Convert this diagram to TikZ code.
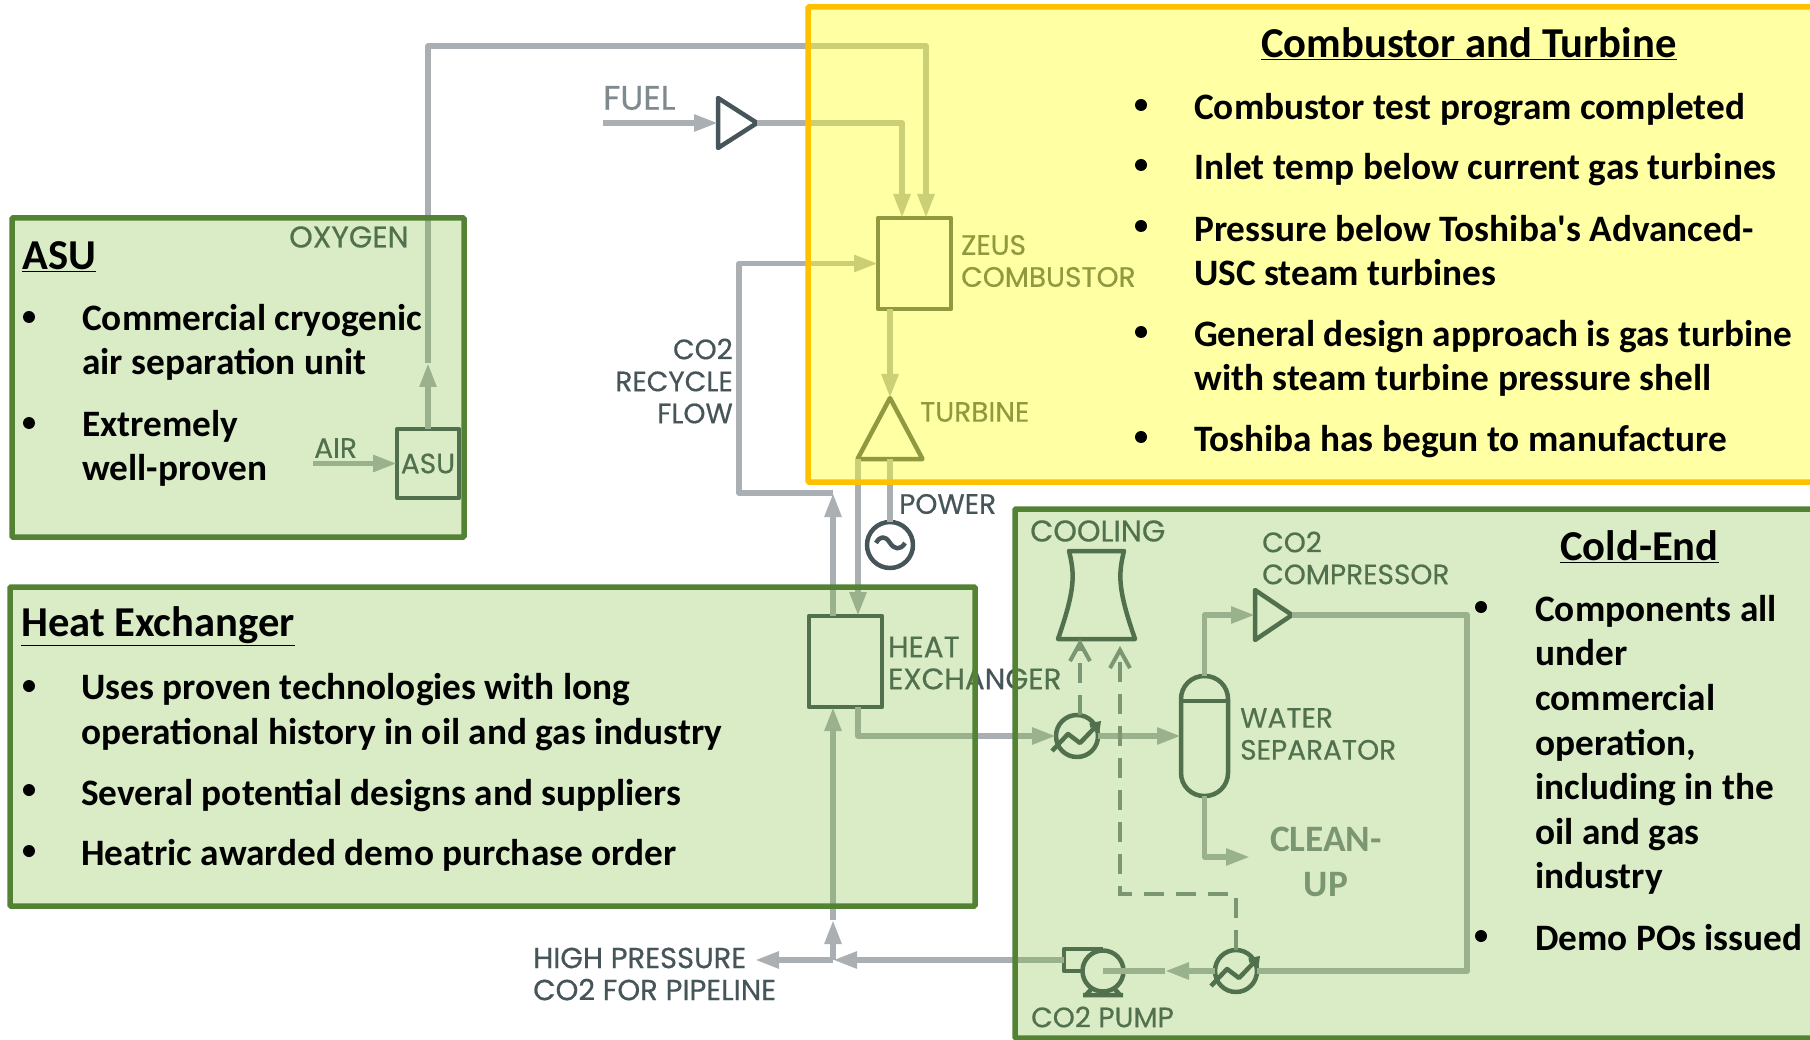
\documentclass[tikz,border=0pt]{standalone}
\usepackage{fontspec}
\setmainfont{Carlito}
\newfontfamily\labelfamily[FakeBold=0.5]{Poppins}
\usetikzlibrary{arrows.meta,positioning,shapes.geometric}
\definecolor{linegray}{HTML}{A9AFB2}
\definecolor{symdark}{HTML}{46555A}
\definecolor{symmid}{HTML}{7F8A8E}
\definecolor{yellowfill}{HTML}{FFFF1B}
\definecolor{yellowedge}{HTML}{FFC000}
\definecolor{greenfill}{HTML}{71BA2A}
\definecolor{greenedge}{HTML}{548235}
\newcommand{\labelfont}[1]{\fontsize{#1}{32}\selectfont\labelfamily}
\newcommand{\bodyfont}{\fontsize{37.3}{44.6}\selectfont\bfseries}
\newcommand{\headfont}{\fontsize{42.6}{50}\selectfont\bfseries}

\tikzset{
  cooler/.pic={
    \node[sym, circle, minimum size=42pt] (-c) at (0,0) {};
    \draw[sym, -{Straight Barb[length=7pt,width=10pt]}] (-25,15) -- (-9,-2) -- (3,7) -- (24,-15);
  }
}

\begin{document}
\begin{tikzpicture}[x=1pt, y=-1pt,
  pipe/.style={draw=linegray, line width=5.5pt, line join=round},
  flow/.style={pipe, -{Triangle[length=24pt,width=16pt]}},
  vent/.style={draw=symmid, line width=4pt, dash pattern=on 20pt off 12pt, -{Straight Barb[length=18pt,width=20pt]}},
  sym/.style={draw=symdark, line width=4.5pt, line join=round, inner sep=0pt, outer sep=0pt},
  unit/.style={sym, minimum width=73pt, minimum height=91pt},
  valve/.style={sym, isosceles triangle, isosceles triangle stretches},
  lab/.style={font=\labelfont{28}, text=symdark, inner sep=0pt, anchor=west, align=left},
  panel/.style={line width=5.5pt, rounded corners=1pt, outer sep=0pt, anchor=north west, draw opacity=1},
  greenpanel/.style={panel, draw=greenedge, fill=greenfill, fill opacity=0.27},
  dot/.style={circle, fill=black, inner sep=0pt, minimum size=12pt},
  body/.style={font=\bodyfont, text=black, inner sep=0pt, anchor=west, align=left},
  head/.style={font=\headfont, text=black, inner sep=0pt, anchor=west}
]
\useasboundingbox (0,0) rectangle (1810,1040);
\clip (0,0) rectangle (1810,1040);

% equipment
\node[unit] (zeus) at (914.5,263.5) {};
\node[unit] (hx) at (845.5,661.5) {};
\node[sym, minimum width=62pt, minimum height=69pt, font=\labelfont{28}, text=symdark] (asuunit) at (428,463.5) {ASU};
\node[valve, minimum width=50pt, minimum height=39pt, anchor=apex] (fuelvalve) at (757,123) {};
\node[valve, shape border rotate=90, minimum width=65pt, minimum height=61pt, anchor=apex] (turbine) at (890,398) {};
\node[valve, minimum width=50pt, minimum height=37pt, anchor=apex] (comp) at (1292,615) {};
\node[sym, circle, minimum size=46pt] (gen) at (890,545) {};
\draw[sym] (876,543) .. controls (880,536) and (885,535) .. (890,543) .. controls (894,549) and (900,551) .. (905,543);
\node[sym, rounded corners=23pt, minimum width=47pt, minimum height=120pt] (sep) at (1204.5,736) {};
\coordinate (sepline) at (1204,701);
\draw[sym] (sep.west |- sepline) -- (sep.east |- sepline);
\pic (cool1) at (1077,736) {cooler};
\pic (cool2) at (1236,971) {cooler};
\draw[sym] (1069,551) -- (1124,551) .. controls (1118,575) and (1118,590) .. (1135,639) -- (1058,639) .. controls (1075,590) and (1075,575) .. (1069,551) -- cycle;
% pump
\node[sym, circle, minimum size=41pt] (pump) at (1103,971) {};
\node[inner sep=0pt, outer sep=0pt, minimum width=39pt, minimum height=22pt] (pumpbox) at (1083.5,960) {};
\draw[sym] (pumpbox.north east) -- (pumpbox.north west) -- (pumpbox.south west) -- (pumpbox.south);
\draw[sym] (1083,995) -- (1123,995) (1086,995) -- (1093,987) (1120,995) -- (1113,987);

% free ends and bends
\coordinate (oxyhead) at (428,363);
\coordinate (oxyturn) at (926,46);
\coordinate (airin) at (313,463.5);
\coordinate (fuelin) at (603,123);
\coordinate (fuelturn) at (902,123);
\coordinate (recyclehead) at (833,493);
\coordinate (recycleturn) at (739,263.5);
\coordinate (tee) at (833,960);
\coordinate (uphead) at (833,920);
\coordinate (pipeout) at (755,960);
\coordinate (loopturn) at (1467,971);
\coordinate (pumphead) at (1165,971);
\coordinate (cleantip) at (1250,857);
\coordinate (towera) at (1080,639);
\coordinate (towerb) at (1120,646);
\coordinate (ventturn) at (1120,894);

% lines
\draw[flow] (airin) -- (asuunit.west);
\draw[flow] (asuunit.north) -- (oxyhead);
\draw[flow] (oxyhead) |- (oxyturn) -- ([xshift=11.5pt]zeus.north);
\draw[flow] (fuelin) -- (fuelvalve.lower side);
\draw[flow] (fuelvalve.apex) -- (fuelturn) -- ([xshift=-12.5pt]zeus.north);
\draw[flow] ([xshift=-24.5pt]zeus.south) -- (turbine.apex);
\draw[flow] ([xshift=-32pt]turbine.lower side) -- ([xshift=12.5pt]hx.north);
\draw[pipe] (turbine.lower side) -- (gen.north);
\draw[flow] ([xshift=-12.5pt]hx.north) -- (recyclehead);
\draw[flow] (recyclehead) -| (recycleturn) -- (zeus.west);
\draw[flow] ([xshift=12.5pt]hx.south) |- (cool1-c.west);
\draw[flow] (cool1-c.east) -- (sep.west);
\draw[flow] (sep.north) |- (comp.lower side);
\draw[flow] (sep.south) |- (cleantip);
\draw[pipe] (comp.apex) -| (loopturn) -- (cool2-c.east);
\draw[flow] (cool2-c.west) -- (pumphead);
\draw[pipe] (pumphead) -- (pump.center);
\draw[flow] (pumpbox.west) -- (tee);
\draw[flow] (tee) -- (pipeout);
\draw[flow] (tee) -- (uphead);
\draw[flow] (uphead) -- ([xshift=-12.5pt]hx.south);
\draw[vent] ([xshift=3pt]cool1-c.north) -- (towera);
\draw[vent] (cool2-c.north) |- (ventturn) -- (towerb);

% labels
\node[lab, font=\labelfont{34}, text=symmid] (fuellab) at (603,98) {FUEL};
\node[lab, font=\labelfont{30}] (oxylab) at (289,237) {OXYGEN};
\node[lab] (airlab) at (314,448) {AIR};
\node[lab] (zeuslab) at (961,261) {ZEUS\\COMBUSTOR};
\node[lab] (turblab) at (920,412) {TURBINE};
\node[lab] (powerlab) at (899,504) {POWER};
\node[lab, align=right, anchor=east] (recyclelab) at (733,381) {CO2\\RECYCLE\\FLOW};
\node[lab, font=\labelfont{29.5}] (hxlab) at (888,663) {HEAT\\EXCHANGER};
\node[lab, font=\labelfont{30}] (coollab) at (1030,531) {COOLING};
\node[lab] (complab) at (1262,558) {CO2\\COMPRESSOR};
\node[lab] (seplab) at (1240,734) {WATER\\SEPARATOR};
\node[lab] (pumplab) at (1031,1017) {CO2 PUMP};
\node[lab, font=\labelfont{29}] (pipelab) at (533,974) {HIGH PRESSURE\\CO2 FOR PIPELINE};
\node[body, text=symmid, align=center, anchor=center] (cleanup) at (1326,862) {CLEAN-\\UP};

% panels on top of the flowsheet
\node[panel, draw=yellowedge, fill=yellowfill, fill opacity=0.4, minimum width=1015pt, minimum height=475pt] (burnbox) at (808,7) {};
\node[greenpanel, minimum width=452pt, minimum height=319pt] (asubox) at (12,218) {};
\node[greenpanel, minimum width=965pt, minimum height=319pt] (hxbox) at (10,587) {};
\node[greenpanel, minimum width=810pt, minimum height=529pt] (coldbox) at (1015,509) {};

% combustor text
\node[head] (burnhead) at (1261,44) {\underline{Combustor and Turbine}};
\foreach \y in {105,165,226,332,437} \node[dot] (burndot\y) at (1141,\y) {};
\node[body] (burn1) at (1194,110) {Combustor test program completed};
\node[body] (burn2) at (1194,170) {Inlet temp below current gas turbines};
\node[body] (burn3) at (1194,250.5) {Pressure below Toshiba\textquotesingle s Advanced-\\USC steam turbines};
\node[body] (burn4) at (1194,358.5) {General design approach is gas turbine\\with steam turbine pressure shell};
\node[body] (burn5) at (1194,442) {Toshiba has begun to manufacture};

% asu text
\node[head] (asuhead) at (22,257) {\underline{ASU}};
\foreach \y in {317,423} \node[dot] (asudot\y) at (29,\y) {};
\node[body] (asu1) at (82,342.5) {Commercial cryogenic\\air separation unit};
\node[body] (asu2) at (82,448.5) {Extremely\\well-proven};

% heat exchanger text
\node[head] (hxhead) at (21,626) {\underline{Heat Exchanger}};
\foreach \y in {686,790,851} \node[dot] (hxdot\y) at (29,\y) {};
\node[body] (hx1) at (81,712) {Uses proven technologies with long\\operational history in oil and gas industry};
\node[body] (hx2) at (81,796) {Several potential designs and suppliers};
\node[body] (hx3) at (81,855) {Heatric awarded demo purchase order};

% cold-end text
\node[head] (coldhead) at (1560,547) {\underline{Cold-End}};
\foreach \y in {607,936} \node[dot] (colddot\y) at (1481,\y) {};
\node[body] (cold1) at (1535,745) {Components all\\under\\commercial\\operation,\\including in the\\oil and gas\\industry};
\node[body] (cold2) at (1535,938) {Demo POs issued};
\end{tikzpicture}
\end{document}
